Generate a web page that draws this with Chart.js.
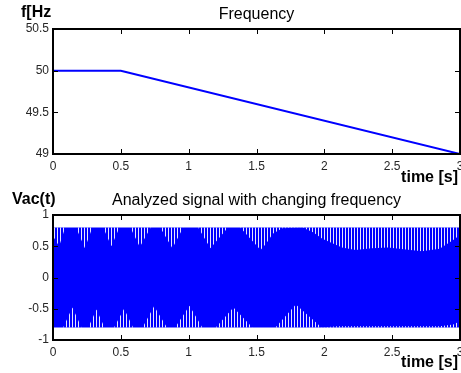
<!DOCTYPE html>
<html>
<head>
<meta charset="utf-8">
<script src="https://cdn.jsdelivr.net/npm/chart.js@4.4.1/dist/chart.umd.min.js"></script>
<style>
  body { margin: 0; background: #fff; }
  #wrap { position: relative; width: 461px; height: 373px; }
  canvas { position: absolute; left: 0; }
</style>
</head>
<body>
<div id="wrap">
  <canvas id="freqChart" width="461" height="186" style="top:0"></canvas>
  <canvas id="sigChart" width="461" height="187" style="top:186px"></canvas>
</div>
<script>
// top plot: frequency
const freqTime = [0, 0.5, 3];
const freqHz = [50, 50, 49];

const peakTime = [0, 3];
const peakAmp = [0.8, 0.8];
const upperTime = [0, 0.045, 0.09, 0.17, 0.235, 0.29, 0.37, 0.43, 0.49, 0.57, 0.64, 0.72, 0.79, 0.88, 0.96,
  1.07, 1.16, 1.29, 1.38, 1.53, 1.57, 1.62, 1.69, 1.84, 1.92, 1.985, 2.13, 2.23, 2.35, 2.47, 2.6, 2.72, 2.85, 2.95, 3.0];
const upperInner = [0.66, 0.5, 0.8, 0.8, 0.47, 0.8, 0.8, 0.5, 0.8, 0.8, 0.49, 0.8, 0.8, 0.47, 0.8,
  0.8, 0.47, 0.8, 0.8, 0.44, 0.54, 0.7, 0.79, 0.8, 0.72, 0.62, 0.48, 0.44, 0.47, 0.48, 0.45, 0.42, 0.46, 0.6, 0.68];
const lowerTime = [0, 0.075, 0.143, 0.21, 0.26, 0.32, 0.38, 0.45, 0.524, 0.59, 0.66, 0.745, 0.84, 0.9, 1.006,
  1.1, 1.2, 1.33, 1.47, 1.64, 1.79, 1.98, 2.1, 2.5, 2.85, 2.95, 3.0];
const lowerInner = [-0.8, -0.8, -0.48, -0.8, -0.8, -0.51, -0.8, -0.8, -0.5, -0.8, -0.8, -0.46, -0.8, -0.8, -0.45,
  -0.8, -0.8, -0.48, -0.8, -0.8, -0.43, -0.8, -0.78, -0.78, -0.78, -0.75, -0.7];

const pts = (xs, ys) => xs.map((x, i) => ({x: x, y: ys[i]}));

const FONT = '"Liberation Sans", Arial, sans-serif';
const BLUE = '#0000ff';

// frame, inward ticks and the text around the axes (matlab look)
const framePlugin = {
  id: 'frame',
  afterDraw(chart, args, o) {
    const ctx = chart.ctx, a = chart.chartArea, sx = chart.scales.x, sy = chart.scales.y;
    ctx.save();
    ctx.strokeStyle = '#000';
    ctx.lineWidth = 1;
    ctx.beginPath();
    sx.ticks.forEach(t => {
      const px = Math.round(sx.getPixelForValue(t.value)) + 0.5;
      ctx.moveTo(px, a.bottom); ctx.lineTo(px, a.bottom - 5);
      ctx.moveTo(px, a.top); ctx.lineTo(px, a.top + 5);
    });
    sy.ticks.forEach(t => {
      const py = Math.round(sy.getPixelForValue(t.value)) + 0.5;
      ctx.moveTo(a.left, py); ctx.lineTo(a.left + 5, py);
      ctx.moveTo(a.right, py); ctx.lineTo(a.right - 5, py);
    });
    ctx.stroke();
    ctx.lineWidth = 2;
    ctx.strokeRect(a.left, a.top, a.right - a.left, a.bottom - a.top);

    ctx.fillStyle = '#000';
    ctx.textBaseline = 'alphabetic';
    ctx.font = '16px ' + FONT;
    ctx.textAlign = 'center';
    ctx.fillText(o.title, (a.left + a.right) / 2, 19);
    ctx.font = 'bold 16px ' + FONT;
    ctx.textAlign = 'left';
    ctx.fillText(o.yLabel, o.yLabelX, o.yLabelY);
    ctx.textAlign = 'right';
    ctx.fillText('time [s]', 458, o.xLabelY);
    ctx.restore();
  }
};

function scalesFor(ymin, ymax, xHeight) {
  return {
    x: {
      type: 'linear', min: 0, max: 3,
      grid: {display: false, drawTicks: false}, border: {display: false},
      ticks: {stepSize: 0.5, padding: 5, color: '#262626', font: {family: FONT, size: 12},
        maxRotation: 0, callback: v => String(v)},
      afterFit: s => { s.height = xHeight; s.paddingLeft = 0; s.paddingRight = 0; }
    },
    y: {
      min: ymin, max: ymax,
      grid: {display: false, drawTicks: false}, border: {display: false},
      ticks: {stepSize: 0.5, padding: 4, color: '#262626', font: {family: FONT, size: 12},
        callback: v => String(v)},
      afterFit: s => { s.width = 53; s.paddingTop = 0; s.paddingBottom = 0; }
    }
  };
}

new Chart(document.getElementById('freqChart'), {
  type: 'line',
  data: {
    datasets: [{
      data: pts(freqTime, freqHz),
      borderColor: BLUE, borderWidth: 2, pointRadius: 0, fill: false
    }]
  },
  options: {
    responsive: false, animation: false,
    layout: {autoPadding: false, padding: {top: 29, left: 0, right: 1, bottom: 0}},
    plugins: {
      legend: {display: false}, tooltip: {enabled: false},
      frame: {title: 'Frequency', yLabel: 'f[Hz', yLabelX: 21, yLabelY: 17, xLabelY: 182}
    },
    scales: scalesFor(49, 50.5, 32)
  },
  plugins: [framePlugin]
});

// white one-pixel gaps between the sampled peaks
const sigCanvas = document.getElementById('sigChart');
const tile = document.createElement('canvas');
tile.width = 3; tile.height = 1;
const tctx = tile.getContext('2d');
tctx.fillStyle = 'rgba(255,255,255,0.9)';
tctx.fillRect(0, 0, 1, 1);
const gaps = sigCanvas.getContext('2d').createPattern(tile, 'repeat');

new Chart(sigCanvas, {
  type: 'line',
  data: {
    datasets: [
      {data: pts(upperTime, upperInner), borderWidth: 0, pointRadius: 0,
        fill: {value: 0.8}, backgroundColor: gaps, order: 0},
      {data: pts(lowerTime, lowerInner), borderWidth: 0, pointRadius: 0,
        fill: {value: -0.8}, backgroundColor: gaps, order: 0},
      {data: pts(peakTime, peakAmp), borderWidth: 0, pointRadius: 0,
        fill: {value: -0.8}, backgroundColor: BLUE, order: 2}
    ]
  },
  options: {
    responsive: false, animation: false,
    layout: {autoPadding: false, padding: {top: 29, left: 0, right: 1, bottom: 0}},
    plugins: {
      legend: {display: false}, tooltip: {enabled: false},
      frame: {title: 'Analyzed signal with changing frequency', yLabel: 'Vac(t)', yLabelX: 12, yLabelY: 18, xLabelY: 181}
    },
    scales: scalesFor(-1, 1, 33)
  },
  plugins: [framePlugin]
});
</script>
</body>
</html>
